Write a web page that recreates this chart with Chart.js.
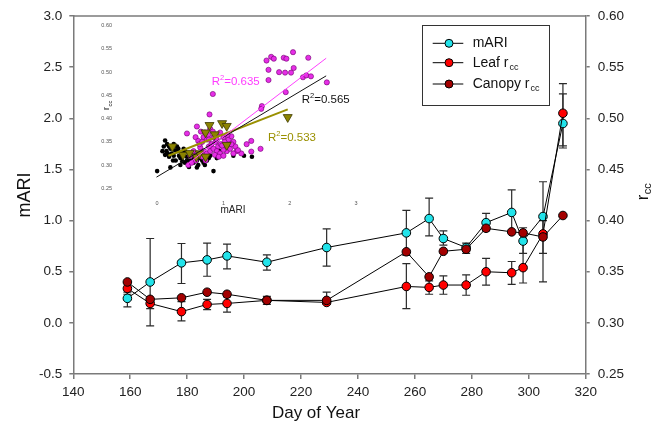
<!DOCTYPE html>
<html><head><meta charset="utf-8">
<script src="https://cdn.jsdelivr.net/npm/chart.js@4/dist/chart.umd.min.js"></script>
<style>
html,body{margin:0;padding:0;background:#fff;}
#wrap{position:relative;width:654px;height:433px;overflow:hidden;}
#main{position:absolute;left:0;top:0;width:654px;height:433px;}
#inset{position:absolute;left:95px;top:18px;width:275px;height:205px;}
</style></head><body>
<div id="wrap"><canvas id="main" width="654" height="433"></canvas><canvas id="inset" width="275" height="205"></canvas></div>
<script>
// ---------- main chart data ----------
const days = [159, 167, 178, 187, 194, 208, 229, 257, 265, 270, 278, 285, 294, 298, 305, 312];
const mari   = [0.24, 0.40, 0.587, 0.616, 0.655, 0.593, 0.737, 0.88, 1.02, 0.825, 0.737, 0.98, 1.08, 0.80, 1.04, 1.95];
const mariLo = [0.156, -0.03, 0.385, 0.456, 0.528, 0.515, 0.554, 0.66, 0.85, 0.76, 0.68, 0.90, 0.88, 0.68, 0.40, 1.71];
const mariHi = [0.30, 0.825, 0.776, 0.78, 0.77, 0.665, 0.92, 1.10, 1.22, 0.90, 0.78, 1.07, 1.30, 0.93, 1.38, 2.24];
const leafRcc = [0.3337, 0.319, 0.311, 0.318, 0.319, 0.322, 0.320, 0.3356, 0.3347, 0.337, 0.337, 0.350, 0.349, 0.354, 0.387, 0.505];
const leafLo  = [0.328, 0.314, 0.302, 0.313, 0.3106, 0.318, 0.318, 0.314, 0.328, 0.328, 0.327, 0.337, 0.3376, 0.339, 0.368, 0.473];
const leafHi  = [0.339, 0.324, 0.3207, 0.323, 0.3255, 0.326, 0.330, 0.358, 0.341, 0.346, 0.347, 0.363, 0.360, 0.378, 0.400, 0.534];
const canopyRcc = [0.340, 0.323, 0.3245, 0.330, 0.328, 0.322, 0.322, 0.3695, 0.345, 0.370, 0.372, 0.3925, 0.389, 0.388, 0.384, 0.405];
const seriesNames = ['mARI', 'Leaf r', 'Canopy r'];
const xTitle = 'Day of Year';
const yTitle = 'mARI';
const y2Title = 'r';

// ---------- inset data ----------
const insetBlack = [[0.0,0.287],[0.85,0.287],[0.12,0.353],[0.15,0.345],[0.1,0.34],[0.18,0.34],[0.14,0.33],[0.2,0.335],[0.22,0.325],[0.25,0.32],[0.18,0.318],[0.12,0.322],[0.3,0.33],[0.33,0.32],[0.35,0.315],[0.28,0.31],[0.4,0.325],[0.42,0.33],[0.45,0.318],[0.38,0.308],[0.5,0.31],[0.52,0.32],[0.55,0.305],[0.48,0.296],[0.6,0.31],[0.62,0.3],[0.65,0.315],[0.7,0.305],[0.72,0.3],[0.75,0.31],[0.66,0.325],[0.58,0.325],[0.3,0.34],[0.25,0.345],[0.2,0.295],[0.35,0.3],[0.45,0.31],[0.55,0.315],[0.68,0.31],[0.42,0.305],[0.32,0.335],[0.08,0.33],[0.16,0.325],[0.27,0.332],[0.37,0.325],[0.5,0.325],[0.62,0.32],[0.78,0.315],[0.8,0.32],[0.6,0.295],[0.9,0.315],[1.15,0.32],[1.31,0.32],[1.43,0.318],[1.0,0.34],[0.95,0.33],[0.24,0.31],[0.4,0.335]];
const insetMagenta = [[1.65,0.525],[1.72,0.533],[1.76,0.529],[1.91,0.531],[1.95,0.529],[2.05,0.543],[2.28,0.531],[1.68,0.505],[1.84,0.500],[1.68,0.483],[1.93,0.499],[2.02,0.499],[2.06,0.509],[2.2,0.489],[2.25,0.493],[2.32,0.491],[2.56,0.478],[1.94,0.457],[1.58,0.427],[1.57,0.421],[0.84,0.453],[0.79,0.409],[1.42,0.352],[1.42,0.329],[1.56,0.335],[1.35,0.345],[1.27,0.325],[1.2,0.33],[1.1,0.345],[1.05,0.33],[0.45,0.368],[0.58,0.36],[0.6,0.383],[0.66,0.372],[0.7,0.36],[0.62,0.352],[0.72,0.37],[0.75,0.355],[0.8,0.378],[0.85,0.36],[0.9,0.365],[0.95,0.37],[1.0,0.36],[0.78,0.34],[0.82,0.345],[0.88,0.35],[0.92,0.34],[0.96,0.345],[1.02,0.35],[1.08,0.355],[1.12,0.362],[1.15,0.35],[1.18,0.34],[0.7,0.33],[0.75,0.325],[0.8,0.33],[0.85,0.335],[0.9,0.33],[0.95,0.325],[1.0,0.333],[1.05,0.34],[1.1,0.335],[1.15,0.325],[0.55,0.33],[0.6,0.325],[0.65,0.338],[0.5,0.32],[0.58,0.31],[0.68,0.318],[0.73,0.31],[0.87,0.322],[0.93,0.318],[0.98,0.342],[0.84,0.372],[1.06,0.365],[0.77,0.365],[0.64,0.345],[0.68,0.35],[1.12,0.345],[1.22,0.332],[0.47,0.3],[0.52,0.305],[0.78,0.355],[1.0,0.32],[0.9,0.355]];
const insetOlive = [[0.23,0.340],[0.39,0.322],[0.49,0.326],[0.59,0.318],[0.64,0.325],[0.73,0.318],[0.73,0.370],[0.79,0.386],[0.87,0.366],[0.98,0.390],[1.05,0.384],[1.05,0.343],[1.97,0.403]];
const fitMagenta = [[0.44,0.300],[2.55,0.530]];
const fitBlack = [[-0.01,0.274],[2.55,0.492]];
const fitOlive = [[0.17,0.320],[1.97,0.420]];
const r2Labels = ['0.635', '0.565', '0.533'];

const toXY = arr => arr.map(p => ({x:p[0], y:p[1]}));
const FONT = 'Arial, "Liberation Sans", sans-serif';
const AXIS = '#7a7a7a';
const CYAN = '#22e3ea', RED = '#ff0000', DRED = '#a30000';

const errorBars = {
  id:'errorBars',
  beforeDatasetsDraw(chart){
    const ctx = chart.ctx, xs = chart.scales.x;
    chart.data.datasets.forEach(ds => {
      if (!ds.errLo) return;
      const ys = chart.scales[ds.yAxisID];
      ctx.save(); ctx.strokeStyle = '#2a2a2a'; ctx.lineWidth = 1.2;
      ds.data.forEach((p, i) => {
        const px = xs.getPixelForValue(p.x);
        const y1 = ys.getPixelForValue(ds.errLo[i]), y2 = ys.getPixelForValue(ds.errHi[i]);
        ctx.beginPath();
        ctx.moveTo(px, y1); ctx.lineTo(px, y2);
        ctx.moveTo(px-4, y1); ctx.lineTo(px+4, y1);
        ctx.moveTo(px-4, y2); ctx.lineTo(px+4, y2);
        ctx.stroke();
      });
      ctx.restore();
    });
  }
};

const mainDecor = {
  id:'mainDecor',
  afterDraw(chart){
    const ctx = chart.ctx, a = chart.chartArea;
    ctx.save();
    ctx.strokeStyle = AXIS; ctx.lineWidth = 1.5;
    ctx.beginPath(); ctx.moveTo(a.left, a.top); ctx.lineTo(a.right, a.top); ctx.stroke();
    ctx.fillStyle = '#111';
    ctx.font = '17px ' + FONT; ctx.textAlign = 'center'; ctx.textBaseline = 'middle';
    ctx.fillText(xTitle, 316, 413);
    ctx.save(); ctx.translate(25, 195); ctx.rotate(-Math.PI/2);
    ctx.font = '18px ' + FONT;
    ctx.fillText(yTitle, 0, 0); ctx.restore();
    ctx.save(); ctx.translate(643, 192); ctx.rotate(-Math.PI/2);
    ctx.textAlign = 'left'; ctx.font = '17px ' + FONT;
    const rw = ctx.measureText(y2Title).width;
    ctx.font = '11px ' + FONT;
    const cw = ctx.measureText('cc').width;
    const start = -(rw + cw)/2;
    ctx.font = '17px ' + FONT; ctx.fillText(y2Title, start, 0);
    ctx.font = '11px ' + FONT; ctx.fillText('cc', start + rw + 0.5, 5);
    ctx.restore();
    ctx.strokeStyle = '#333'; ctx.lineWidth = 1;
    ctx.strokeRect(422.5, 25.5, 127, 80);
    const rows = [43.3, 62.7, 84];
    const cols = [CYAN, RED, DRED];
    rows.forEach((ry, i) => {
      ctx.strokeStyle = '#000'; ctx.lineWidth = 1;
      ctx.beginPath(); ctx.moveTo(432.7, ry); ctx.lineTo(463.3, ry); ctx.stroke();
      ctx.beginPath(); ctx.arc(449, ry, 4, 0, Math.PI*2);
      ctx.fillStyle = cols[i]; ctx.fill(); ctx.stroke();
      ctx.fillStyle = '#111'; ctx.textAlign = 'left'; ctx.textBaseline = 'middle';
      ctx.font = '14px ' + FONT;
      ctx.fillText(seriesNames[i], 472.7, ry);
      if (i > 0) {
        const w = ctx.measureText(seriesNames[i]).width;
        ctx.font = '9px ' + FONT;
        ctx.fillText('cc', 472.7 + w + 1, ry + 5);
      }
    });
    ctx.restore();
  }
};

const mkLine = (label, ys, color, axis, order, lo, hi) => ({
  type:'line', label, data: days.map((d,i)=>({x:d, y:ys[i]})), yAxisID: axis,
  borderColor:'#000', borderWidth:1, pointBackgroundColor: color, pointBorderColor:'#000',
  pointBorderWidth:1, pointRadius:4.3, pointHoverRadius:4.3, tension:0, order,
  errLo: lo, errHi: hi
});

new Chart(document.getElementById('main'), {
  type:'line',
  data:{ datasets:[
    mkLine('Canopy', canopyRcc, DRED, 'y2', 0),
    mkLine('Leaf', leafRcc, RED, 'y2', 1, leafLo, leafHi),
    mkLine('mARI', mari, CYAN, 'y', 2, mariLo, mariHi)
  ]},
  options:{
    responsive:false, animation:false, devicePixelRatio:1,
    layout:{ padding:{ top:15.7, left:0, right:0, bottom:0 } },
    plugins:{ legend:{display:false}, tooltip:{enabled:false} },
    scales:{
      x:{ type:'linear', min:140, max:320,
        ticks:{ stepSize:20, color:'#222', font:{family:FONT, size:13.5}, padding:5, maxRotation:0 },
        grid:{ display:true, drawOnChartArea:false, drawTicks:true, tickLength:5, color:AXIS, lineWidth:1.5 },
        border:{ display:true, color:AXIS, width:1.5 },
        afterFit: s => { s.height = 59; } },
      y:{ type:'linear', position:'left', min:-0.5, max:3.0,
        ticks:{ stepSize:0.5, color:'#222', font:{family:FONT, size:13.5}, padding:7, callback:v=>Number(v).toFixed(1) },
        grid:{ display:true, drawOnChartArea:false, drawTicks:true, tickLength:4, color:AXIS, lineWidth:1.5 },
        border:{ display:true, color:AXIS, width:1.5 },
        afterFit: s => { s.width = 73.3; } },
      y2:{ type:'linear', position:'right', min:0.25, max:0.60,
        ticks:{ stepSize:0.05, color:'#222', font:{family:FONT, size:13.5}, padding:8, callback:v=>Number(v).toFixed(2) },
        grid:{ display:true, drawOnChartArea:false, drawTicks:true, tickLength:4, color:AXIS, lineWidth:1.5 },
        border:{ display:true, color:AXIS, width:1.5 },
        afterFit: s => { s.width = 68.3; } }
    }
  },
  plugins:[errorBars, mainDecor]
});

// ---------- inset ----------
const insetDecor = {
  id:'insetDecor',
  afterDraw(chart){
    const ctx = chart.ctx;
    ctx.save();
    ctx.fillStyle = '#222'; ctx.textAlign = 'center'; ctx.textBaseline = 'middle';
    ctx.font = '10px ' + FONT;
    ctx.fillText('mARI', 138, 192);
    ctx.save(); ctx.translate(12, 88); ctx.rotate(-Math.PI/2);
    ctx.textAlign = 'left'; ctx.font = '9px ' + FONT;
    ctx.fillText('r', -4, 0);
    ctx.font = '6px ' + FONT; ctx.fillText('cc', -0.6, 3);
    ctx.restore();
    const drawR2 = (x, y, val, color) => {
      ctx.fillStyle = color; ctx.textAlign = 'left'; ctx.textBaseline = 'middle';
      ctx.font = '11.5px ' + FONT; ctx.fillText('R', x, y);
      let w = ctx.measureText('R').width;
      ctx.font = '7.5px ' + FONT; ctx.fillText('2', x + w, y - 4);
      w += ctx.measureText('2').width;
      ctx.font = '11.5px ' + FONT; ctx.fillText('=' + val, x + w, y);
    };
    drawR2(116.7, 63.7, r2Labels[0], '#ff3cff');
    drawR2(206.7, 82, r2Labels[1], '#111');
    drawR2(173, 120.3, r2Labels[2], '#9a9000');
    ctx.restore();
  }
};

new Chart(document.getElementById('inset'), {
  type:'scatter',
  data:{ datasets:[
    { label:'fitMagenta', type:'line', data:toXY(fitMagenta), borderColor:'#ff40ff', borderWidth:1, pointRadius:0, order:0 },
    { label:'fitBlack', type:'line', data:toXY(fitBlack), borderColor:'#111', borderWidth:1, pointRadius:0, order:0 },
    { label:'fitOlive', type:'line', data:toXY(fitOlive), borderColor:'#9a9000', borderWidth:2, pointRadius:0, order:0 },
    { label:'olive', data:toXY(insetOlive), pointStyle:'triangle', rotation:180, pointRadius:5.2, backgroundColor:'#8c8400', borderColor:'#3d3a00', borderWidth:0.8, order:1 },
    { label:'magenta', data:toXY(insetMagenta), pointRadius:2.6, backgroundColor:'#e62ee6', borderColor:'#6d006d', borderWidth:0.6, order:2 },
    { label:'black', data:toXY(insetBlack), pointRadius:2.3, backgroundColor:'#000', borderColor:'#000', borderWidth:0, order:3 }
  ]},
  options:{
    responsive:false, animation:false, devicePixelRatio:1,
    layout:{ padding:{ top:7.7, right:14, left:0, bottom:0 } },
    plugins:{ legend:{display:false}, tooltip:{enabled:false} },
    scales:{
      x:{ type:'linear', min:-0.5, max:3,
        ticks:{ stepSize:1, color:'#555', font:{family:FONT, size:5.5}, padding:4, callback:v => (v < 0 ? null : String(v)) },
        grid:{ display:false }, border:{ display:false },
        afterFit: s => { s.height = 34.7; } },
      y:{ type:'linear', min:0.25, max:0.60,
        ticks:{ stepSize:0.05, color:'#555', font:{family:FONT, size:5.5}, padding:4, callback:v=>Number(v).toFixed(2) },
        grid:{ display:false }, border:{ display:false },
        afterFit: s => { s.width = 29; } }
    }
  },
  plugins:[insetDecor]
});
</script>
</body></html>
